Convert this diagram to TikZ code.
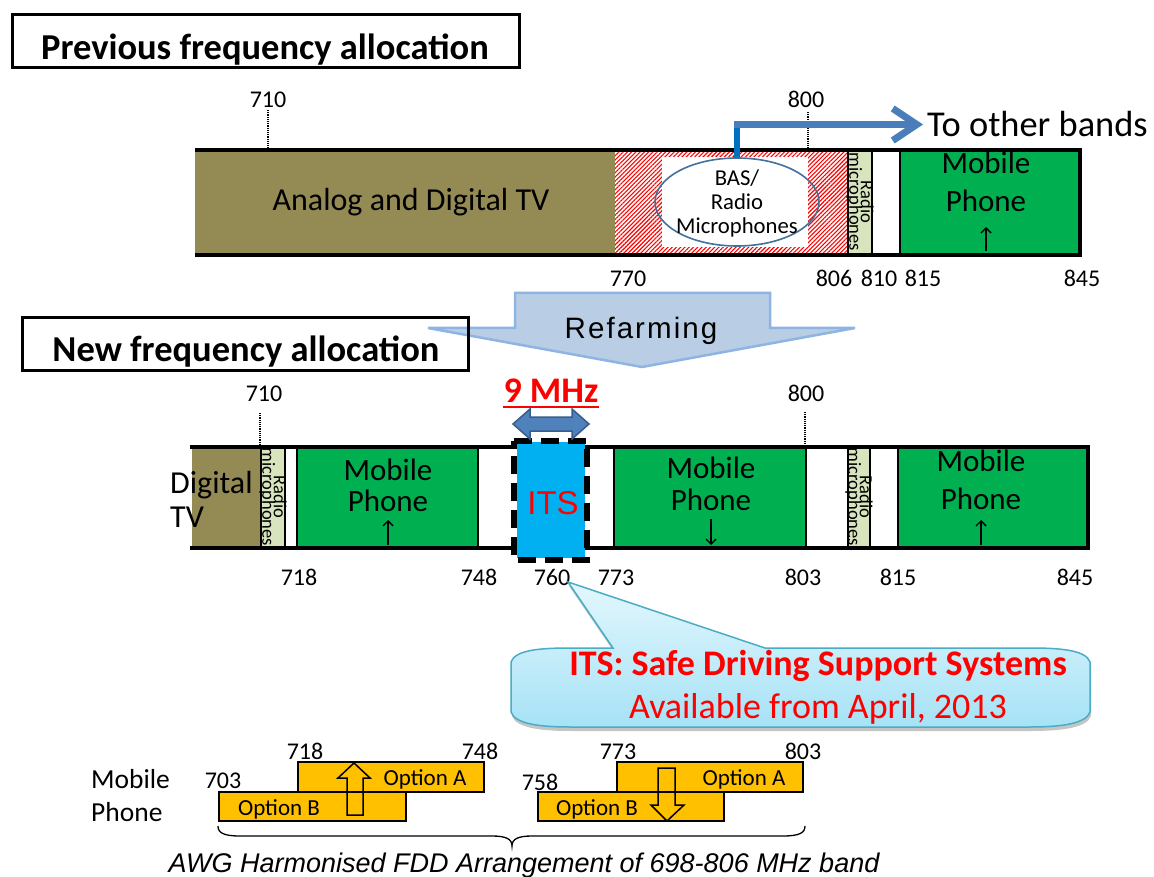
\documentclass[tikz,border=0pt]{standalone}
\usepackage{fontspec}
\setmainfont{Carlito}
\newfontfamily\arialfont{Liberation Sans}
\newfontfamily\spacedfont[LetterSpace=7]{Liberation Sans}
\usetikzlibrary{patterns.meta,shadows,arrows.meta,shapes.geometric}
\newcommand\fsz[2]{\fontsize{#1}{#2}\selectfont}
\newcommand\tightskip{\lineskiplimit -50pt\relax}

\definecolor{tvolive}{HTML}{948A54}
\definecolor{mobgreen}{HTML}{00B050}
\definecolor{micgreen}{HTML}{D7E4BD}
\definecolor{itsblue}{HTML}{00B0F0}
\definecolor{optorange}{HTML}{FFC000}
\definecolor{refill}{HTML}{B9CDE5}
\definecolor{refline}{HTML}{8EB4E3}
\definecolor{arrblue}{HTML}{4A7EBB}
\definecolor{arrdark}{HTML}{0070C0}
\definecolor{ellline}{HTML}{41719C}
\definecolor{mhzfill}{HTML}{4F81BD}
\definecolor{mhzline}{HTML}{385D8A}
\definecolor{calltop}{HTML}{E3F7FD}
\definecolor{callbot}{HTML}{A6E2F6}
\definecolor{callline}{HTML}{4BACC6}
\definecolor{itsred}{HTML}{FF0000}

\begin{document}
\begin{tikzpicture}[x=1pt,y=-1pt,
  lbl/.style={inner sep=0pt, anchor=base, font=\fsz{24}{28}},
  ttl/.style={inner sep=0pt, anchor=base, font=\bfseries\fsz{36.5}{40}},
  mob/.style={inner sep=0pt, anchor=base, font=\fsz{31}{36}},
  band/.style={line width=4pt, line join=miter},
  seg/.style={draw=black, line width=1.5pt},
  tick/.style={line width=2pt, dash pattern=on 1.2pt off 1pt},
  vtext/.style={rotate=-90, inner sep=0pt, align=center, font={\fsz{18.5}{11.5}\tightskip}},
  dirarrow/.style={line width=1.4pt, -{Straight Barb[length=5pt,width=10pt]}},
  opt/.style={draw=black, line width=1.5pt, fill=optorange},
  optlbl/.style={inner sep=0pt, anchor=base, font=\fsz{23}{26}},
  blockarrow/.style={draw=black, line width=1.5pt, line join=miter}]
\useasboundingbox (0,0) rectangle (1154,877);
\fill[white] (0,0) rectangle (1154,877);

% ---------------- previous allocation ----------------
\node[draw, line width=3pt, minimum width=507pt, minimum height=53pt, inner sep=0pt] (prevbox) at (265.5,41.5) {};
\node[ttl] (prevtitle) at (265,60) {Previous frequency allocation};

\fill[tvolive] (195,150) rectangle (615,255);
\fill[white] (615,150) rectangle (848,255);
\fill[pattern={Lines[angle=45,distance=3pt,line width=1.1pt]}, pattern color=red] (615,150) rectangle (848,255);
\fill[white] (662,157) rectangle (808,247);
\node[ellipse, draw=ellline, line width=1.6pt, minimum width=164pt, minimum height=88pt, inner sep=0pt] (bas) at (737,202) {};
\node[align=center, inner sep=0pt, font=\fsz{22.7}{24}] (bastext) at (737,203) {BAS/\\Radio\\Microphones};
\node[inner sep=0pt, anchor=base, font=\fsz{32}{36}] (analog) at (411,211) {Analog and Digital TV};

\draw[seg, fill=micgreen] (848,150) rectangle (872,255);
\node[vtext] (mic1) at (860,202) {Radio\\microphones};
\draw[seg, fill=mobgreen] (900,150) rectangle (1080,255);
\node[mob] (mob1a) at (986,174) {Mobile};
\node[mob] (mob1b) at (986,212) {Phone};
\coordinate (up1s) at (986,251);
\coordinate (up1e) at (986,227);
\draw[dirarrow] (up1s) -- (up1e);

\draw[band] (195,150) -- (1080,150) -- (1080,255) -- (195,255);

\draw[tick] (268,110) -- (268,150);
\draw[tick] (808,112) -- (808,150);
\node[lbl] (t710) at (268,108) {710};
\node[lbl] (t800) at (806,108) {800};
\node[lbl] (t770) at (628,287) {770};
\node[lbl] (t806) at (834,287) {806};
\node[lbl] (t810) at (879,287) {810};
\node[lbl] (t815) at (923,287) {815};
\node[lbl] (t845) at (1082,287) {845};

% BAS moves to other bands
\node[inner sep=0pt, anchor=base west, font=\fsz{36.4}{40}] (other) at (927,137) {To other bands};
\coordinate (bend) at (bas.north |- other.west);
\draw[line width=6pt, arrdark] (bas.north) -- ([yshift=-3pt]bend);
\draw[line width=7pt, arrblue, -{Straight Barb[length=24pt,width=32pt]}] ([xshift=-3pt]bend) -- ([xshift=-4pt]other.west);

% ---------------- refarming ----------------
\draw[fill=refill, draw=refline, line width=2.5pt, line join=miter] (515,293) -- (770,293) -- (770,328) -- (855,328) -- (642,367) -- (428,328) -- (515,328) -- cycle;
\node[inner sep=0pt, anchor=base, font=\spacedfont\fsz{29.5}{32}] (refarm) at (641,338) {Refarming};

\node[draw, line width=3pt, minimum width=446pt, minimum height=52pt, inner sep=0pt] (newbox) at (245,344) {};
\node[ttl] (newtitle) at (246,361) {New frequency allocation};

% ---------------- new allocation ----------------
\fill[tvolive] (192,447) rectangle (261,548);
\draw[seg, fill=micgreen] (261,447) rectangle (285,548);
\draw[seg, fill=mobgreen] (297,447) rectangle (478,548);
\draw[seg, fill=mobgreen] (614,447) rectangle (806,548);
\draw[seg, fill=micgreen] (848,447) rectangle (870,548);
\draw[seg, fill=mobgreen] (898,447) rectangle (1088,548);
\draw[band] (190,447) -- (1088,447) -- (1088,548) -- (190,548);

\node[inner sep=0pt, anchor=base west, font=\fsz{32}{34}] (dig1) at (170,493) {Digital};
\node[inner sep=0pt, anchor=base west, font=\fsz{32}{34}] (dig2) at (170,527) {TV};
\node[vtext] (mic2) at (273,497) {Radio\\microphones};
\node[vtext] (mic3) at (859,497) {Radio\\microphones};

\node[mob] (mob2a) at (388,480) {Mobile};
\node[mob] (mob2b) at (388,511) {Phone};
\node[mob] (mob3a) at (711,478) {Mobile};
\node[mob] (mob3b) at (711,510) {Phone};
\node[mob] (mob4a) at (981,471) {Mobile};
\node[mob] (mob4b) at (981,509) {Phone};
\coordinate (up2s) at (388,545); \coordinate (up2e) at (388,520);
\coordinate (dn3s) at (711,519); \coordinate (dn3e) at (711,545);
\coordinate (up4s) at (981,545); \coordinate (up4e) at (981,520);
\draw[dirarrow] (up2s) -- (up2e);
\draw[dirarrow] (dn3s) -- (dn3e);
\draw[dirarrow] (up4s) -- (up4e);

% ITS block
\fill[itsblue] (517,442) rectangle (585,558);
\draw[line width=6pt, dash pattern=on 18pt off 9pt] (514,441) -- (587,441) -- (587,560) -- (514,560) -- cycle;
\node[inner sep=0pt, anchor=base, font=\arialfont\fsz{33}{36}, text=itsred] (its) at (553,514) {ITS};

\node[inner sep=0pt, anchor=base, font=\bfseries\fsz{36}{40}, text=itsred] (mhz) at (551,402) {9 MHz};
\draw[itsred, line width=2.5pt] ([yshift=-5pt]mhz.base west) -- ([yshift=-5pt]mhz.base east);
\draw[fill=mhzfill, draw=mhzline, line width=1.5pt, line join=miter] (513,424) -- (530,409) -- (530,417) -- (572,417) -- (572,409) -- (589,424) -- (572,439) -- (572,431) -- (530,431) -- (530,439) -- cycle;

\draw[tick] (260,413) -- (260,447);
\draw[tick] (805,412) -- (805,447);
\node[lbl] (n710) at (264,401) {710};
\node[lbl] (n800) at (806,401) {800};
\node[lbl] (n718) at (299,585) {718};
\node[lbl] (n748) at (479,585) {748};
\node[lbl] (n760) at (552,585) {760};
\node[lbl] (n773) at (616,585) {773};
\node[lbl] (n803) at (803,585) {803};
\node[lbl] (n815) at (898,585) {815};
\node[lbl] (n845) at (1075,585) {845};

% ---------------- ITS callout ----------------
\coordinate (calltip) at (568,582);
\path[drop shadow={shadow xshift=1pt, shadow yshift=-4pt, opacity=0.45},
      top color=calltop, bottom color=callbot, draw=callline, line width=1.5pt]
  (511,662) .. controls (515,650) and (540,648) .. (570,648) -- (613,648) -- (calltip) -- (765,648) -- (1030,648)
  .. controls (1060,648) and (1086,650) .. (1090,662) -- (1090,712)
  .. controls (1086,724) and (1060,727) .. (1030,727) -- (570,727)
  .. controls (540,727) and (515,724) .. (511,712) -- cycle;
\node[inner sep=0pt, anchor=base, font=\bfseries\fsz{36}{40}, text=itsred] (itsa) at (818,675) {ITS: Safe Driving Support Systems};
\node[inner sep=0pt, anchor=base, font=\fsz{36}{40}, text=itsred] (itsb) at (818,718) {Available from April, 2013};

% ---------------- FDD arrangement ----------------
\node[inner sep=0pt, anchor=base west, font=\fsz{27.5}{30}] (bmob1) at (91,788) {Mobile};
\node[inner sep=0pt, anchor=base west, font=\fsz{27.5}{30}] (bmob2) at (91,821) {Phone};

\draw[opt] (298,762) rectangle (484,792);
\draw[opt] (219,792) rectangle (406,821);
\draw[opt] (617,762) rectangle (803,792);
\draw[opt] (538,792) rectangle (724,821);

\draw[blockarrow] (347,815) -- (347,778) -- (338,778) -- (354,763) -- (370,778) -- (363,778) -- (363,815) -- cycle;
\draw[blockarrow] (658,768) -- (675,768) -- (675,805) -- (684,805) -- (667,821) -- (651,805) -- (658,805) -- cycle;

\node[optlbl] (oa1) at (425,785) {Option A};
\node[optlbl] (ob1) at (279,815) {Option B};
\node[optlbl] (oa2) at (744,785) {Option A};
\node[optlbl] (ob2) at (597,815) {Option B};

\node[lbl] (b718) at (305,759) {718};
\node[lbl] (b748) at (480,759) {748};
\node[lbl] (b703) at (223,788) {703};
\node[lbl] (b773) at (618,759) {773};
\node[lbl] (b803) at (803,759) {803};
\node[lbl] (b758) at (540,790) {758};

\draw[line width=1.3pt] (218,826) .. controls (218,833) and (224,836) .. (240,836) -- (492,836)
  .. controls (506,836) and (512,839) .. (512,846) .. controls (512,839) and (518,836) .. (532,836)
  -- (783,836) .. controls (799,836) and (805,833) .. (805,826);
\node[inner sep=0pt, anchor=base, font=\arialfont\itshape\fsz{27}{30}] (caption) at (524,872) {AWG Harmonised FDD Arrangement of 698-806 MHz band};
\end{tikzpicture}
\end{document}
